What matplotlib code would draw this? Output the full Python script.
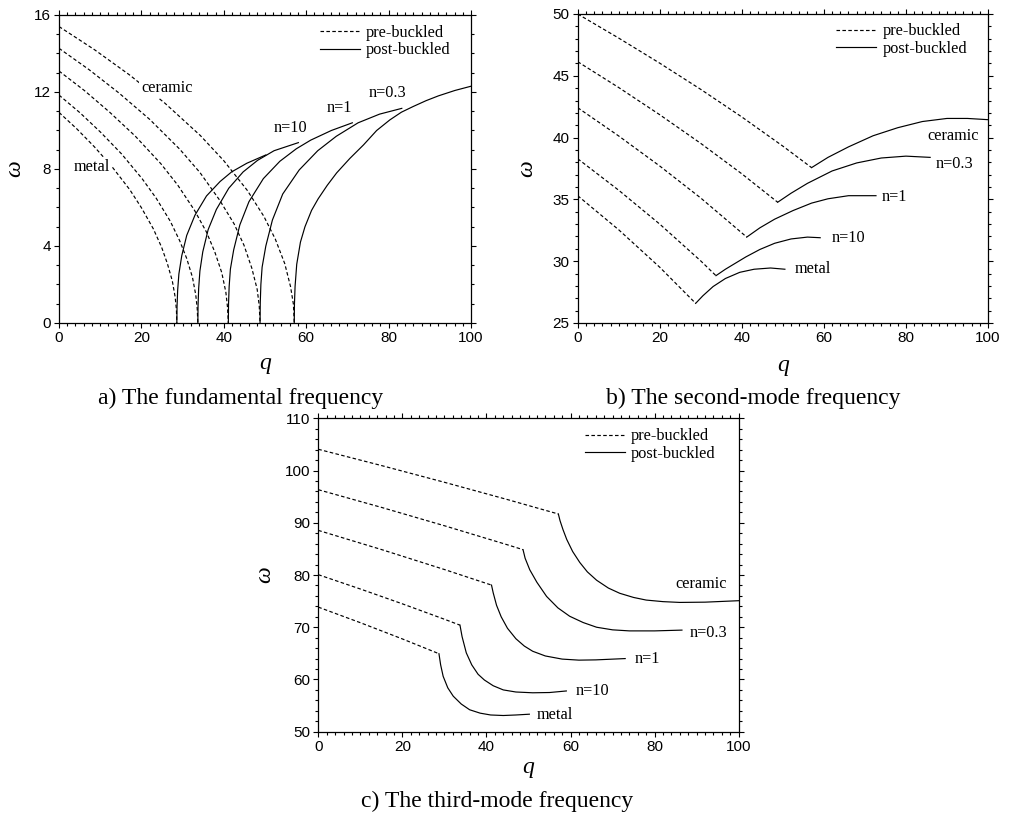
import matplotlib
matplotlib.use('Agg')
import matplotlib.pyplot as plt
from matplotlib.lines import Line2D
from matplotlib.ticker import MultipleLocator

plt.rcParams['font.family'] = ['Liberation Sans', 'DejaVu Sans']
SERIF = ['Liberation Serif', 'DejaVu Serif']

materials = ['metal', 'n=10', 'n=1', 'n=0.3', 'ceramic']
x_ticks_major = 20

# ---------------- panel a: fundamental frequency ----------------
a_pre_q = {
    'ceramic': [0, 8.6, 17.1, 25.7, 34.3, 40.0, 45.7, 49.7, 52.5, 54.8, 56.2, 56.9, 57.1],
    'n=0.3':   [0, 7.3, 14.6, 22.0, 29.3, 34.2, 39.0, 42.5, 44.9, 46.8, 48.1, 48.6, 48.8],
    'n=1':     [0, 6.2, 12.3, 18.5, 24.7, 28.8, 32.9, 35.8, 37.8, 39.5, 40.5, 40.9, 41.1],
    'n=10':    [0, 5.1, 10.1, 15.2, 20.2, 23.6, 27.0, 29.3, 31.0, 32.4, 33.2, 33.55, 33.7],
    'metal':   [0, 4.3, 8.6, 12.9, 17.2, 20.0, 22.9, 24.9, 26.3, 27.5, 28.2, 28.5, 28.6],
}
a_pre_w = {
    'ceramic': [15.40, 14.20, 12.89, 11.42, 9.74, 8.43, 6.89, 5.55, 4.36, 3.08, 1.89, 0.97, 0],
    'n=0.3':   [14.27, 13.16, 11.94, 10.58, 9.03, 7.82, 6.38, 5.15, 4.04, 2.85, 1.75, 0.90, 0],
    'n=1':     [13.09, 12.07, 10.95, 9.71, 8.28, 7.17, 5.85, 4.72, 3.70, 2.62, 1.60, 0.82, 0],
    'n=10':    [11.84, 10.92, 9.91, 8.78, 7.49, 6.48, 5.29, 4.27, 3.35, 2.37, 1.45, 0.75, 0],
    'metal':   [10.94, 10.09, 9.15, 8.11, 6.92, 5.99, 4.89, 3.94, 3.09, 2.19, 1.34, 0.69, 0],
}
a_post_q = {
    'metal':   [28.6, 28.65, 28.8, 29.1, 29.8, 31.0, 33.0, 35.8, 39.1, 41.9, 45.6, 50.2],
    'n=10':    [33.7, 33.75, 33.9, 34.2, 34.9, 36.2, 38.2, 41.2, 44.7, 48.2, 52.2, 58.1],
    'n=1':     [41.1, 41.15, 41.3, 41.6, 42.4, 43.9, 46.1, 49.6, 53.6, 57.6, 61.1, 66.1, 71.2],
    'n=0.3':   [48.8, 48.85, 49.0, 49.3, 50.2, 51.8, 54.3, 58.3, 62.8, 67.3, 72.6, 77.8, 83.2],
    'ceramic': [57.1, 57.15, 57.3, 57.7, 58.6, 59.7, 61.3, 62.9, 65.1, 67.4, 70.6, 73.9,
                77.1, 80.3, 83.1, 86.0, 89.1, 92.1, 96.1, 100],
}
a_post_w = {
    'metal':   [0, 0.85, 1.7, 2.55, 3.5, 4.55, 5.6, 6.6, 7.35, 7.85, 8.3, 8.73],
    'n=10':    [0, 0.9, 1.8, 2.7, 3.7, 4.85, 5.9, 7.0, 7.85, 8.45, 8.95, 9.37],
    'n=1':     [0, 1.0, 1.9, 2.8, 3.8, 5.1, 6.3, 7.5, 8.4, 9.05, 9.5, 10.0, 10.4],
    'n=0.3':   [0, 1.05, 2.0, 2.9, 4.0, 5.35, 6.7, 7.95, 8.95, 9.7, 10.4, 10.85, 11.15],
    'ceramic': [0, 1.0, 1.9, 3.05, 4.2, 5.0, 5.85, 6.45, 7.15, 7.8, 8.55, 9.25,
                10.0, 10.55, 10.95, 11.25, 11.55, 11.8, 12.08, 12.3],
}

# ---------------- panel b: second-mode frequency ----------------
b_pre_q = {
    'ceramic': [0, 10, 20, 30, 40, 50, 57.0],
    'n=0.3':   [0, 10, 20, 30, 40, 48.74],
    'n=1':     [0, 10, 20, 30, 41.2],
    'n=10':    [0, 10, 20, 30, 33.7],
    'metal':   [0, 10, 20, 28.75],
}
b_pre_w = {
    'ceramic': [50.0, 48.05, 46.02, 43.90, 41.67, 39.31, 37.57],
    'n=0.3':   [46.14, 44.05, 41.85, 39.53, 37.07, 34.77],
    'n=1':     [42.42, 40.13, 37.70, 35.11, 31.95],
    'n=10':    [38.29, 35.74, 33.00, 30.02, 28.83],
    'metal':   [35.30, 32.54, 29.51, 26.59],
}
b_post_q = {
    'ceramic': [57.0, 61, 66, 72, 78, 84, 90, 95, 100],
    'n=0.3':   [48.74, 52, 56, 62, 68, 74, 80, 85.9],
    'n=1':     [41.2, 44.4, 48, 52.5, 57, 61, 66, 72.7],
    'n=10':    [33.7, 36, 38.5, 41, 44.4, 48, 52, 56, 59.1],
    'metal':   [28.75, 30.5, 33, 36, 39.5, 43, 47, 50.5],
}
b_post_w = {
    'ceramic': [37.57, 38.4, 39.25, 40.15, 40.8, 41.3, 41.55, 41.55, 41.45],
    'n=0.3':   [34.77, 35.5, 36.3, 37.3, 37.95, 38.35, 38.5, 38.4],
    'n=1':     [31.95, 32.7, 33.4, 34.1, 34.7, 35.05, 35.3, 35.3],
    'n=10':    [28.83, 29.35, 29.85, 30.35, 30.95, 31.45, 31.8, 31.95, 31.9],
    'metal':   [26.59, 27.2, 27.95, 28.6, 29.1, 29.35, 29.45, 29.35],
}

# ---------------- panel c: third-mode frequency ----------------
c_pre_q = {
    'ceramic': [0, 15, 30, 45, 57.1],
    'n=0.3':   [0, 15, 30, 45, 48.7],
    'n=1':     [0, 15, 30, 41.2],
    'n=10':    [0, 10, 20, 30, 33.7],
    'metal':   [0, 10, 20, 28.7],
}
c_pre_w = {
    'ceramic': [104.07, 100.96, 97.75, 94.44, 91.68],
    'n=0.3':   [96.33, 92.95, 89.43, 85.78, 84.85],
    'n=1':     [88.54, 84.88, 81.05, 78.07],
    'n=10':    [80.06, 77.32, 74.48, 71.53, 70.4],
    'metal':   [73.85, 70.87, 67.76, 64.93],
}
c_post_q = {
    'ceramic': [57.1, 57.5, 58.2, 59.1, 60.5, 62.2, 64, 66.2, 69, 71.7, 75, 78, 82, 86, 92, 100],
    'n=0.3':   [48.7, 49.2, 50.3, 52, 54.3, 57, 59.8, 63, 66.2, 70, 74, 80, 86.5],
    'n=1':     [41.2, 41.6, 42.4, 43.5, 45, 47, 49, 51, 54, 58, 62, 66, 73],
    'n=10':    [33.7, 34.2, 35.2, 36.5, 38, 39.5, 41.6, 44, 47, 51, 55, 59],
    'metal':   [28.7, 29.1, 29.7, 30.8, 32.1, 34, 36, 38.5, 41, 44, 47, 50.2],
}
c_post_w = {
    'ceramic': [91.68, 90.4, 88.7, 86.8, 84.5, 82.4, 80.6, 79.0, 77.5, 76.5, 75.7, 75.2, 74.9, 74.75, 74.8, 75.08],
    'n=0.3':   [84.85, 83.2, 81.0, 78.6, 75.9, 73.7, 72.1, 70.9, 70.0, 69.5, 69.3, 69.3, 69.45],
    'n=1':     [78.07, 76.6, 74.2, 72.0, 69.8, 67.8, 66.4, 65.4, 64.5, 63.9, 63.7, 63.75, 64.0],
    'n=10':    [70.4, 68.2, 65.1, 62.8, 61.0, 59.9, 58.8, 58.0, 57.6, 57.45, 57.5, 57.8],
    'metal':   [64.93, 62.8, 60.6, 58.4, 56.8, 55.3, 54.2, 53.55, 53.2, 53.1, 53.2, 53.35],
}

legend_labels = ['pre-buckled', 'post-buckled']
captions = ['a) The fundamental frequency', 'b) The second-mode frequency',
            'c) The third-mode frequency']

# ---------------- drawing ----------------
W, H = 1013, 815
fig = plt.figure(figsize=(W / 100, H / 100), dpi=100)
axa = fig.add_axes([59 / W, 1 - 323 / H, 412 / W, 308 / H])
axb = fig.add_axes([577.7 / W, 1 - 323 / H, 410.3 / W, 309 / H])
axc = fig.add_axes([318.3 / W, 1 - 731.7 / H, 420.4 / W, 313.4 / H])

LW = 0.85
DASH = (0, (3, 2))
TXT = dict(fontfamily=SERIF, fontsize=11.7)


def style(ax, ylim, ymaj, ymin, xlab_y, ylab_x):
    ax.set_xlim(0, 100)
    ax.set_ylim(*ylim)
    ax.xaxis.set_major_locator(MultipleLocator(x_ticks_major))
    ax.xaxis.set_minor_locator(MultipleLocator(2))
    ax.yaxis.set_major_locator(MultipleLocator(ymaj))
    ax.yaxis.set_minor_locator(MultipleLocator(ymin))
    ax.tick_params(which='both', direction='out', top=True, right=True,
                   width=0.8, labelsize=11, pad=2.5, colors='black')
    ax.tick_params(which='major', length=3.3)
    ax.tick_params(which='minor', length=2.0)
    for s in ax.spines.values():
        s.set_linewidth(0.9)
    ax.set_xlabel('q', fontfamily=SERIF, fontstyle='italic', fontsize=17)
    ax.xaxis.set_label_coords(0.5, xlab_y)
    ax.xaxis.label.set_va('center')
    ax.set_ylabel('ω', fontfamily=SERIF, fontstyle='italic', fontsize=17)
    ax.yaxis.set_label_coords(ylab_x, 0.5)
    ax.yaxis.label.set_va('center')


def draw(ax, pre_q, pre_w, post_q, post_w):
    for m in materials:
        ax.plot(pre_q[m], pre_w[m], color='black', lw=LW, ls=DASH)
        ax.plot(post_q[m], post_w[m], color='black', lw=LW, ls='-')


def legend(ax, x, y):
    handles = [Line2D([], [], color='black', lw=LW, ls=DASH),
               Line2D([], [], color='black', lw=LW, ls='-')]
    ax.legend(handles, legend_labels, loc='upper left', bbox_to_anchor=(x, y),
              frameon=False, prop=dict(family=SERIF, size=11.7),
              handlelength=2.45, handletextpad=0.4, labelspacing=0.1,
              borderpad=0, borderaxespad=0)


draw(axa, a_pre_q, a_pre_w, a_post_q, a_post_w)
draw(axb, b_pre_q, b_pre_w, b_post_q, b_post_w)
draw(axc, c_pre_q, c_pre_w, c_post_q, c_post_w)

style(axa, (0, 16), 4, 1, -0.133, -0.107)
style(axb, (25, 50), 5, 1, -0.137, -0.124)
style(axc, (50, 110), 10, 2, -0.115, -0.127)

legend(axa, 0.633, 0.968)
legend(axb, 0.63, 0.970)
legend(axc, 0.634, 0.968)

box = dict(facecolor='white', edgecolor='none', pad=1.5)
for s, q, w in [('ceramic', 26.2, 12.2), ('metal', 7.9, 8.12), ('n=10', 56.1, 10.15),
                ('n=1', 68.0, 11.15), ('n=0.3', 79.8, 11.96)]:
    axa.text(q, w, s, ha='center', va='center', bbox=box, zorder=5, **TXT)
for s, q, w in [('ceramic', 91.6, 40.13), ('n=0.3', 91.9, 37.86), ('n=1', 77.3, 35.22),
                ('n=10', 66.1, 31.88), ('metal', 57.4, 29.37)]:
    axb.text(q, w, s, ha='center', va='center', **TXT)
for s, q, w in [('ceramic', 91.1, 78.22), ('n=0.3', 92.85, 68.96), ('n=1', 78.2, 63.86),
                ('n=10', 65.2, 57.8), ('metal', 56.3, 53.2)]:
    axc.text(q, w, s, ha='center', va='center', **TXT)

fig.text(240.7 / W, 1 - 404 / H, captions[0], ha='center', va='baseline',
         fontfamily=SERIF, fontsize=17)
fig.text(753 / W, 1 - 404 / H, captions[1], ha='center', va='baseline',
         fontfamily=SERIF, fontsize=17)
fig.text(496.7 / W, 1 - 807 / H, captions[2], ha='center', va='baseline',
         fontfamily=SERIF, fontsize=17)

fig.savefig('out.png', dpi=100)
